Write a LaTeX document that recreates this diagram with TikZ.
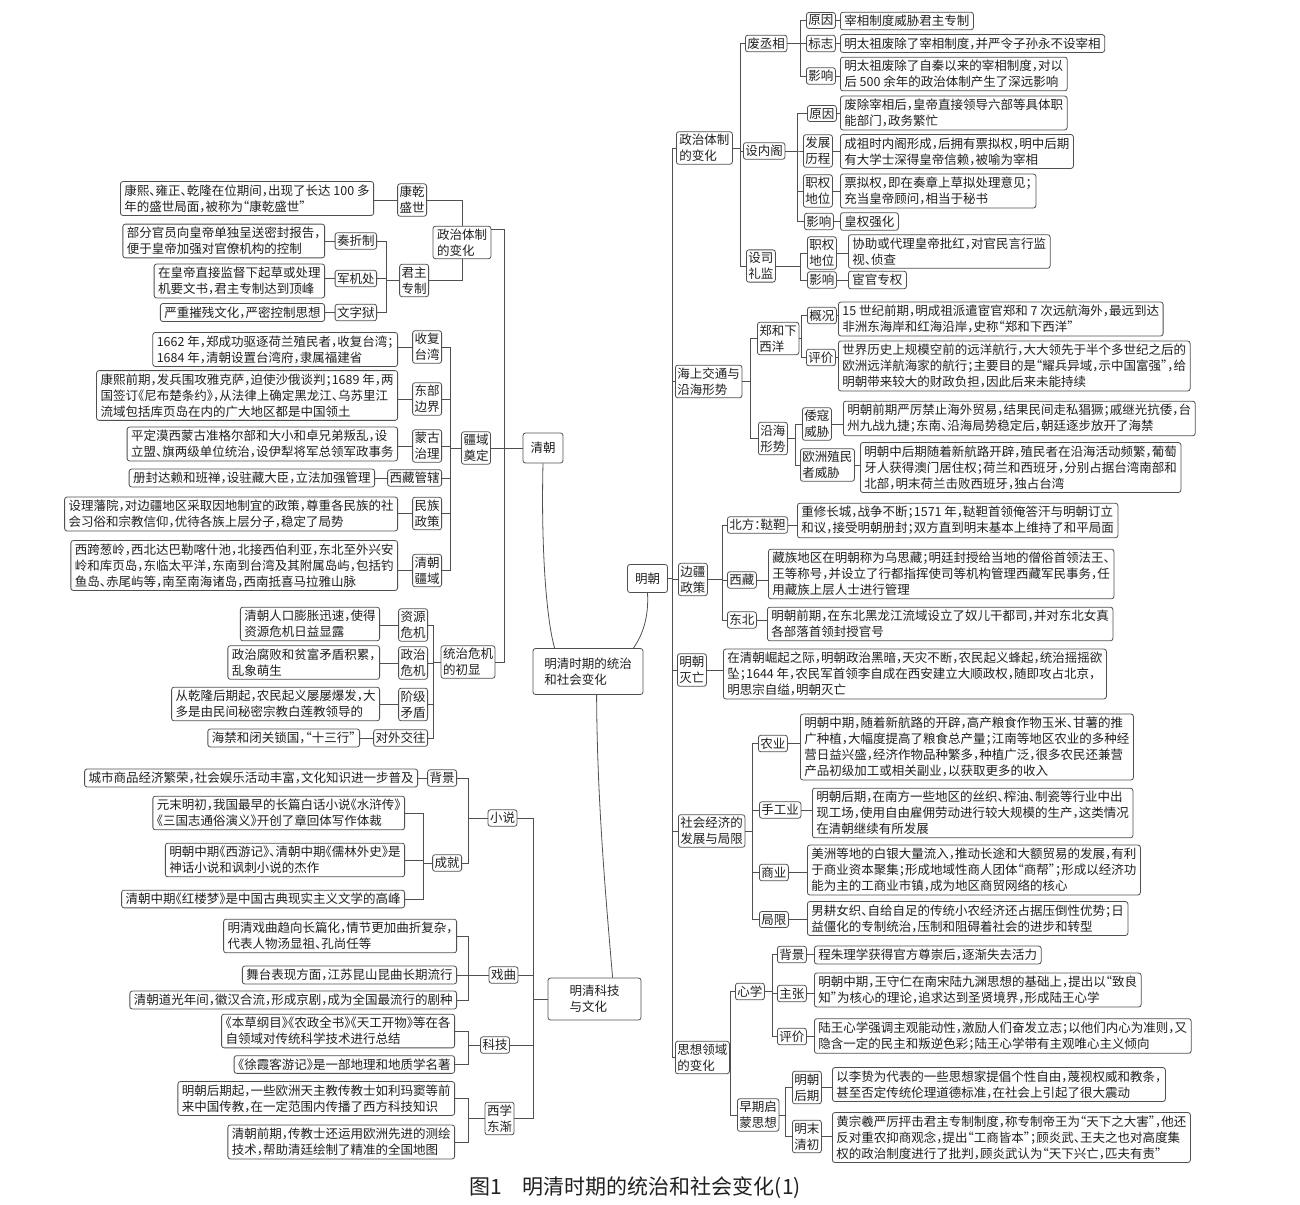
\documentclass[tikz,border=0pt]{standalone}
\usepackage{fontspec}
\setmainfont{Noto Sans CJK SC}[RawFeature=+halt]
\usetikzlibrary{calc}
\definecolor{linec}{HTML}{505050}
\definecolor{boxc}{HTML}{505050}
\definecolor{txt}{HTML}{202020}
\newcommand\fs{\fontsize{12.5}{16}\selectfont}
\tikzset{
 bx/.style={draw=boxc,line width=0.8pt,rounded corners=2.5pt,fill=white,text=txt,font=\fs,align=left,inner ysep=3pt},
 leaf/.style={bx,inner xsep=4pt},
 lf/.style={leaf,anchor=east},
 rt/.style={leaf,anchor=west},
 lab/.style={bx,inner xsep=2pt,inner ysep=2.5pt},
 labL/.style={lab,anchor=east},
 labR/.style={lab,anchor=west},
 cn/.style={draw=linec,line width=0.8pt},
}
\newcommand\mkL[2]{\draw[cn] (#1.west) -- (#1.west -| #2.east);}
\newcommand\mkR[2]{\draw[cn] (#1.east) -- (#1.east -| #2.west);}
\newcommand\trL[3]{\draw[cn] (#1.west) -- (#1.west -| #2) |- (#3.east);}
\newcommand\trR[3]{\draw[cn] (#1.east) -- (#1.east -| #2) |- (#3.west);}
\begin{document}
\begin{tikzpicture}[x=1pt,y=-1pt]
\fill[white] (0,0) rectangle (1300,1204);
\useasboundingbox (0,0) rectangle (1300,1204);
% bus coordinates
\coordinate (bqj) at (386,0);
\coordinate (bbj) at (450,0);
\coordinate (bct) at (433,0);
\coordinate (tq) at (504,0);
\coordinate (bnc) at (423,0);
\coordinate (bcu) at (468,0);
\coordinate (tc) at (533,0);
\coordinate (tm) at (672,0);
\coordinate (bmz) at (740,0);
\coordinate (bmf) at (800,0);
\coordinate (bmn) at (797,0);
\coordinate (bms) at (800,0);
\coordinate (bmh) at (750,0);
\coordinate (bmha) at (801,0);
\coordinate (bmhb) at (795,0);
\coordinate (bmb) at (722,0);
\coordinate (bme) at (752,0);
\coordinate (bmt) at (730,0);
\coordinate (bmta) at (772,0);
\coordinate (bmtb) at (785,0);

% ===== Qing: political =====
\node[lf] (q1) at (374,198.5) {康熙、雍正、乾隆在位期间，出现了长达 100 多\\年的盛世局面，被称为“康乾盛世”};
\node[labL] (qk) at (427,200) {康乾\\盛世};
\node[lab,inner xsep=4pt] (qz) at (462,242.5) {政治体制\\的变化};
\node[lf] (q2) at (325,241) {部分官员向皇帝单独呈送密封报告，\\便于皇帝加强对官僚机构的控制};
\node[labL] (q2l) at (377,241) {奏折制};
\node[lf] (q3) at (325,281) {在皇帝直接监督下起草或处理\\机要文书，君主专制达到顶峰};
\node[labL] (q3l) at (377,278.5) {军机处};
\node[lf] (q4) at (325,312.5) {严重摧残文化，严密控制思想};
\node[labL] (q4l) at (377,312.5) {文字狱};
\node[labL] (qj) at (429,280.5) {君主\\专制};
\mkL{qk}{q1} \mkL{q2l}{q2} \mkL{q3l}{q3} \mkL{q4l}{q4}
\trL{qj}{bqj}{q2l} \trL{qj}{bqj}{q3l} \trL{qj}{bqj}{q4l}
\draw[cn] (qk.east) -| (qz.north);
\draw[cn] (qj.east) -| (qz.south);

% ===== Qing: border =====
\node[lf] (b1) at (398,349.5) {1662 年，郑成功驱逐荷兰殖民者，收复台湾；\\1684 年，清朝设置台湾府，隶属福建省};
\node[labL] (b1l) at (442,347) {收复\\台湾};
\node[lf] (b2) at (398,395.5) {康熙前期，发兵围攻雅克萨，迫使沙俄谈判；1689 年，两\\国签订《尼布楚条约》，从法律上确定黑龙江、乌苏里江\\流域包括库页岛在内的广大地区都是中国领土};
\node[labL] (b2l) at (442,399) {东部\\边界};
\node[lf] (b3) at (398,444) {平定漠西蒙古准格尔部和大小和卓兄弟叛乱，设\\立盟、旗两级单位统治，设伊犁将军总领军政事务};
\node[labL] (b3l) at (442,446) {蒙古\\治理};
\node[lf] (b4) at (375,478) {册封达赖和班禅，设驻藏大臣，立法加强管理};
\node[labL] (b4l) at (442,478) {西藏管辖};
\node[lf] (b5) at (398,514) {设理藩院，对边疆地区采取因地制宜的政策，尊重各民族的社\\会习俗和宗教信仰，优待各族上层分子，稳定了局势};
\node[labL] (b5l) at (442,513.5) {民族\\政策};
\node[lf] (b6) at (398,565.5) {西跨葱岭，西北达巴勒喀什池，北接西伯利亚，东北至外兴安\\岭和库页岛，东临太平洋，东南到台湾及其附属岛屿，包括钓\\鱼岛、赤尾屿等，南至南海诸岛，西南抵喜马拉雅山脉};
\node[labL] (b6l) at (442,570.5) {清朝\\疆域};
\node[lab] (bj) at (476,448) {疆域\\奠定};
\mkL{b1l}{b1} \mkL{b2l}{b2} \mkL{b3l}{b3} \mkL{b4l}{b4} \mkL{b5l}{b5} \mkL{b6l}{b6}
\trL{bj}{bbj}{b1l} \trL{bj}{bbj}{b2l} \trL{bj}{bbj}{b3l}
\trL{bj}{bbj}{b4l} \trL{bj}{bbj}{b5l} \trL{bj}{bbj}{b6l}
\node[lab,minimum width=40pt,minimum height=30pt,align=center] (qc) at (543,448) {清朝};

% ===== Qing: crisis =====
\node[lf] (c1) at (380,624) {清朝人口膨胀迅速，使得\\资源危机日益显露};
\node[labL] (c1l) at (428,625) {资源\\危机};
\node[lf] (c2) at (380,662.5) {政治腐败和贫富矛盾积累，\\乱象萌生};
\node[labL] (c2l) at (428,663) {政治\\危机};
\node[lf] (c3) at (380,704) {从乾隆后期起，农民起义屡屡爆发，大\\多是由民间秘密宗教白莲教领导的};
\node[labL] (c3l) at (428,704.5) {阶级\\矛盾};
\node[lf] (c4) at (360,738) {海禁和闭关锁国，“十三行”};
\node[labL] (c4l) at (428,738) {对外交往};
\node[lab] (ct) at (468,662) {统治危机\\的初显};
\mkL{c1l}{c1} \mkL{c2l}{c2} \mkL{c3l}{c3} \mkL{c4l}{c4}
\trL{ct}{bct}{c1l} \trL{ct}{bct}{c2l} \trL{ct}{bct}{c3l} \trL{ct}{bct}{c4l}

% Qing trunk
\draw[cn] ([yshift=-4pt]qz.north east) -| (tq |- ct.east) -- (ct.east);
\draw[cn] (bj.east) -- (qc.west);

% ===== root =====
\node[lab,minimum width=110pt,minimum height=46pt] (root) at (588,671.5) {明清时期的统治\\和社会变化};
\node[lab,minimum width=40pt,minimum height=28pt,align=center] (qm) at (647.5,578.5) {明朝};
\node[lab,minimum width=93pt,minimum height=42pt] (cr) at (594.5,999) {明清科技\\与文化};
\draw[cn] (qc.south) .. controls (541,545) and (546,618) .. ([xshift=22pt]root.north west);
\draw[cn] (qm.south) .. controls (649,618) and (642,636) .. ([xshift=-10pt]root.north east);
\draw[cn] ([xshift=64pt]root.south west) .. controls (597,800) and (606,900) .. ([xshift=65pt]cr.north west);

% ===== Culture =====
\node[lf] (n1) at (418,778) {城市商品经济繁荣，社会娱乐活动丰富，文化知识进一步普及};
\node[labL] (n1l) at (457,778) {背景};
\node[lf] (n2) at (405,813) {元末明初，我国最早的长篇白话小说《水浒传》\\《三国志通俗演义》开创了章回体写作体裁};
\node[lf] (n3) at (405,860) {明朝中期《西游记》、清朝中期《儒林外史》是\\神话小说和讽刺小说的杰作};
\node[lf] (n4) at (405,899) {清朝中期《红楼梦》是中国古典现实主义文学的高峰};
\node[labL] (nc) at (462,863) {成就};
\node[lab] (nx) at (502.5,818) {小说};
\mkL{n1l}{n1}
\trL{nc}{bnc}{n2} \trL{nc}{bnc}{n3} \trL{nc}{bnc}{n4}
\trL{nx}{bcu}{n1l} \trL{nx}{bcu}{nc}

\node[lf] (o1) at (457,936) {明清戏曲趋向长篇化，情节更加曲折复杂，\\代表人物汤显祖、孔尚任等};
\node[lf] (o2) at (457,975) {舞台表现方面，江苏昆山昆曲长期流行};
\node[lf] (o3) at (457,1000) {清朝道光年间，徽汉合流，形成京剧，成为全国最流行的剧种};
\node[lab] (ox) at (503.5,975) {戏曲};
\trL{ox}{bcu}{o1} \trL{ox}{bcu}{o2} \trL{ox}{bcu}{o3}

\node[lf] (s1) at (455,1031) {《本草纲目》《农政全书》《天工开物》等在各\\自领域对传统科学技术进行总结};
\node[lf] (s2) at (455,1064.5) {《徐霞客游记》是一部地理和地质学名著};
\node[lab] (sx) at (495,1045) {科技};
\trL{sx}{bcu}{s1} \trL{sx}{bcu}{s2}

\node[lf] (w1) at (455,1098.5) {明朝后期起，一些欧洲天主教传教士如利玛窦等前\\来中国传教，在一定范围内传播了西方科技知识};
\node[lf] (w2) at (455,1142) {清朝前期，传教士还运用欧洲先进的测绘\\技术，帮助清廷绘制了精准的全国地图};
\node[lab] (wx) at (499.5,1118.5) {西学\\东渐};
\trL{wx}{bcu}{w1} \trL{wx}{bcu}{w2}

\draw[cn] (nx.east) -| (tc |- wx.east) -- (wx.east);
\draw[cn] (ox.east) -- (ox.east -| tc);
\draw[cn] (sx.east) -- (sx.east -| tc);
\draw[cn] (tc |- cr.west) -- (cr.west);

% ===== Ming: political =====
\node[labR,inner xsep=3pt] (mz) at (676,148) {政治体制\\的变化};
\node[labR] (mf) at (745,43.5) {废丞相};
\node[labR] (mn) at (743,151) {设内阁};
\node[labR] (ms) at (746,266) {设司\\礼监};
\trR{mz}{bmz}{mf} \trR{mz}{bmz}{mn} \trR{mz}{bmz}{ms}

\node[labR] (mfa) at (806,20.5) {原因};
\node[rt] (mfat) at (840,21) {宰相制度威胁君主专制};
\node[labR] (mfb) at (806,43.5) {标志};
\node[rt] (mfbt) at (840,43.5) {明太祖废除了宰相制度，并严令子孙永不设宰相};
\node[labR] (mfc) at (806,76) {影响};
\node[rt] (mfct) at (840,74) {明太祖废除了自秦以来的宰相制度，对以\\后 500 余年的政治体制产生了深远影响};
\trR{mf}{bmf}{mfa} \trR{mf}{bmf}{mfb} \trR{mf}{bmf}{mfc}
\mkR{mfa}{mfat} \mkR{mfb}{mfbt} \mkR{mfc}{mfct}

\node[labR] (mna) at (807,113.5) {原因};
\node[rt] (mnat) at (840,113) {废除宰相后，皇帝直接领导六部等具体职\\能部门，政务繁忙};
\node[labR] (mnb) at (803,151) {发展\\历程};
\node[rt] (mnbt) at (840,151.5) {成祖时内阁形成，后拥有票拟权，明中后期\\有大学士深得皇帝信赖，被喻为宰相};
\node[labR] (mnc) at (803,191) {职权\\地位};
\node[rt] (mnct) at (840,191) {票拟权，即在奏章上草拟处理意见；\\充当皇帝顾问，相当于秘书};
\node[labR] (mnd) at (804,221.5) {影响};
\node[rt] (mndt) at (840,221.5) {皇权强化};
\trR{mn}{bmn}{mna} \trR{mn}{bmn}{mnb} \trR{mn}{bmn}{mnc} \trR{mn}{bmn}{mnd}
\mkR{mna}{mnat} \mkR{mnb}{mnbt} \mkR{mnc}{mnct} \mkR{mnd}{mndt}

\node[labR] (msa) at (807,253) {职权\\地位};
\node[rt] (msat) at (848,251.5) {协助或代理皇帝批红，对官民言行监\\视、侦查};
\node[labR] (msb) at (807,280) {影响};
\node[rt] (msbt) at (848,280) {宦官专权};
\trR{ms}{bms}{msa} \trR{ms}{bms}{msb}
\mkR{msa}{msat} \mkR{msb}{msbt}

% ===== Ming: maritime =====
\node[labR] (mh) at (675,381.5) {海上交通与\\沿海形势};
\node[labR] (mha) at (757,338.5) {郑和下\\西洋};
\node[labR] (mhb) at (758,438.5) {沿海\\形势};
\trR{mh}{bmh}{mha} \trR{mh}{bmh}{mhb}
\node[labR] (mhaa) at (807,315.5) {概况};
\node[rt] (mhaat) at (838,319) {15 世纪前期，明成祖派遣宦官郑和 7 次远航海外，最远到达\\非洲东海岸和红海沿岸，史称“郑和下西洋”};
\node[labR] (mhab) at (806,357.5) {评价};
\node[rt] (mhabt) at (838,366) {世界历史上规模空前的远洋航行，大大领先于半个多世纪之后的\\欧洲远洋航海家的航行；主要目的是“耀兵异域，示中国富强”，给\\明朝带来较大的财政负担，因此后来未能持续};
\trR{mha}{bmha}{mhaa} \trR{mha}{bmha}{mhab}
\mkR{mhaa}{mhaat} \mkR{mhab}{mhabt}
\node[labR] (mhba) at (802,424) {倭寇\\威胁};
\node[rt] (mhbat) at (843,418.5) {明朝前期严厉禁止海外贸易，结果民间走私猖獗；戚继光抗倭，台\\州九战九捷；东南、沿海局势稳定后，朝廷逐步放开了海禁};
\node[labR] (mhbb) at (800,465) {欧洲殖民\\者威胁};
\node[rt] (mhbbt) at (860,467.5) {明朝中后期随着新航路开辟，殖民者在沿海活动频繁，葡萄\\牙人获得澳门居住权；荷兰和西班牙，分别占据台湾南部和\\北部，明末荷兰击败西班牙，独占台湾};
\trR{mhb}{bmhb}{mhba} \trR{mhb}{bmhb}{mhbb}
\mkR{mhba}{mhbat} \mkR{mhbb}{mhbbt}

% ===== Ming: frontier =====
\node[labR] (mb) at (678,579.5) {边疆\\政策};
\node[labR] (mba) at (727,525) {北方：鞑靼};
\node[rt] (mbat) at (797,520.5) {重修长城，战争不断；1571 年，鞑靼首领俺答汗与明朝订立\\和议，接受明朝册封；双方直到明末基本上维持了和平局面};
\node[labR] (mbb) at (727,580) {西藏};
\node[rt] (mbbt) at (768,574) {藏族地区在明朝称为乌思藏；明廷封授给当地的僧俗首领法王、\\王等称号，并设立了行都指挥使司等机构管理西藏军民事务，任\\用藏族上层人士进行管理};
\node[labR] (mbc) at (727,620) {东北};
\node[rt] (mbct) at (767,624) {明朝前期，在东北黑龙江流域设立了奴儿干都司，并对东北女真\\各部落首领封授官号};
\trR{mb}{bmb}{mba} \trR{mb}{bmb}{mbb} \trR{mb}{bmb}{mbc}
\mkR{mba}{mbat} \mkR{mbb}{mbbt} \mkR{mbc}{mbct}

% ===== Ming: fall =====
\node[labR] (mw) at (677,670) {明朝\\灭亡};
\node[rt] (mwt) at (723,674) {在清朝崛起之际，明朝政治黑暗，天灾不断，农民起义蜂起，统治摇摇欲\\坠；1644 年，农民军首领李自成在西安建立大顺政权，随即攻占北京，\\明思宗自缢，明朝灭亡};
\mkR{mw}{mwt}

% ===== Ming: economy =====
\node[labR] (me) at (678,831) {社会经济的\\发展与局限};
\node[labR] (mea) at (758,743.5) {农业};
\node[rt] (meat) at (800,747) {明朝中期，随着新航路的开辟，高产粮食作物玉米、甘薯的推\\广种植，大幅度提高了粮食总产量；江南等地区农业的多种经\\营日益兴盛，经济作物品种繁多，种植广泛，很多农民还兼营\\产品初级加工或相关副业，以获取更多的收入};
\node[labR] (meb) at (759,810) {手工业};
\node[rt] (mebt) at (812,813) {明朝后期，在南方一些地区的丝织、榨油、制瓷等行业中出\\现工场，使用自由雇佣劳动进行较大规模的生产，这类情况\\在清朝继续有所发展};
\node[labR] (mec) at (759,872.5) {商业};
\node[rt] (mect) at (807,870) {美洲等地的白银大量流入，推动长途和大额贸易的发展，有利\\于商业资本聚集；形成地域性商人团体“商帮”；形成以经济功\\能为主的工商业市镇，成为地区商贸网络的核心};
\node[labR] (med) at (759,919.5) {局限};
\node[rt] (medt) at (807,918.5) {男耕女织、自给自足的传统小农经济还占据压倒性优势；日\\益僵化的专制统治，压制和阻碍着社会的进步和转型};
\trR{me}{bme}{mea} \trR{me}{bme}{meb} \trR{me}{bme}{mec} \trR{me}{bme}{med}
\mkR{mea}{meat} \mkR{meb}{mebt} \mkR{mec}{mect} \mkR{med}{medt}

% ===== Ming: thought =====
\node[labR] (mt) at (675,1057.5) {思想领域\\的变化};
\node[labR] (mta) at (735,991.5) {心学};
\node[labR] (mtb) at (737,1115) {早期启\\蒙思想};
\trR{mt}{bmt}{mta} \trR{mt}{bmt}{mtb}
\node[labR] (mtaa) at (777,954.5) {背景};
\node[rt] (mtaat) at (814,955) {程朱理学获得官方尊崇后，逐渐失去活力};
\node[labR] (mtab) at (777,993.5) {主张};
\node[rt] (mtabt) at (814,990) {明朝中期，王守仁在南宋陆九渊思想的基础上，提出以“致良\\知”为核心的理论，追求达到圣贤境界，形成陆王心学};
\node[labR] (mtac) at (777,1036.5) {评价};
\node[rt] (mtact) at (814,1036) {陆王心学强调主观能动性，激励人们奋发立志；以他们内心为准则，又\\隐含一定的民主和叛逆色彩；陆王心学带有主观唯心主义倾向};
\trR{mta}{bmta}{mtaa} \trR{mta}{bmta}{mtab} \trR{mta}{bmta}{mtac}
\mkR{mtaa}{mtaat} \mkR{mtab}{mtabt} \mkR{mtac}{mtact}
\node[labR] (mtba) at (792,1087.5) {明朝\\后期};
\node[rt] (mtbat) at (832,1084.5) {以李贽为代表的一些思想家提倡个性自由，蔑视权威和教条，\\甚至否定传统伦理道德标准，在社会上引起了很大震动};
\node[labR] (mtbb) at (792,1136.5) {明末\\清初};
\node[rt] (mtbbt) at (832,1137.5) {黄宗羲严厉抨击君主专制制度，称专制帝王为“天下之大害”，他还\\反对重农抑商观念，提出“工商皆本”；顾炎武、王夫之也对高度集\\权的政治制度进行了批判，顾炎武认为“天下兴亡，匹夫有责”};
\trR{mtb}{bmtb}{mtba} \trR{mtb}{bmtb}{mtbb}
\mkR{mtba}{mtbat} \mkR{mtbb}{mtbbt}

% Ming trunk
\draw[cn] (tm |- mz.west) -- (tm |- mt.west);
\draw[cn] (qm.east) -- (qm.east -| tm);
\foreach \n in {mz,mh,mb,mw,me,mt} {\draw[cn] (tm |- \n.west) -- (\n.west);}

% caption
\node[font=\fontsize{21}{24}\selectfont,text=txt] (cap) at (635,1188) {图1\hspace{1em}明清时期的统治和社会变化(1)};
\end{tikzpicture}
\end{document}
